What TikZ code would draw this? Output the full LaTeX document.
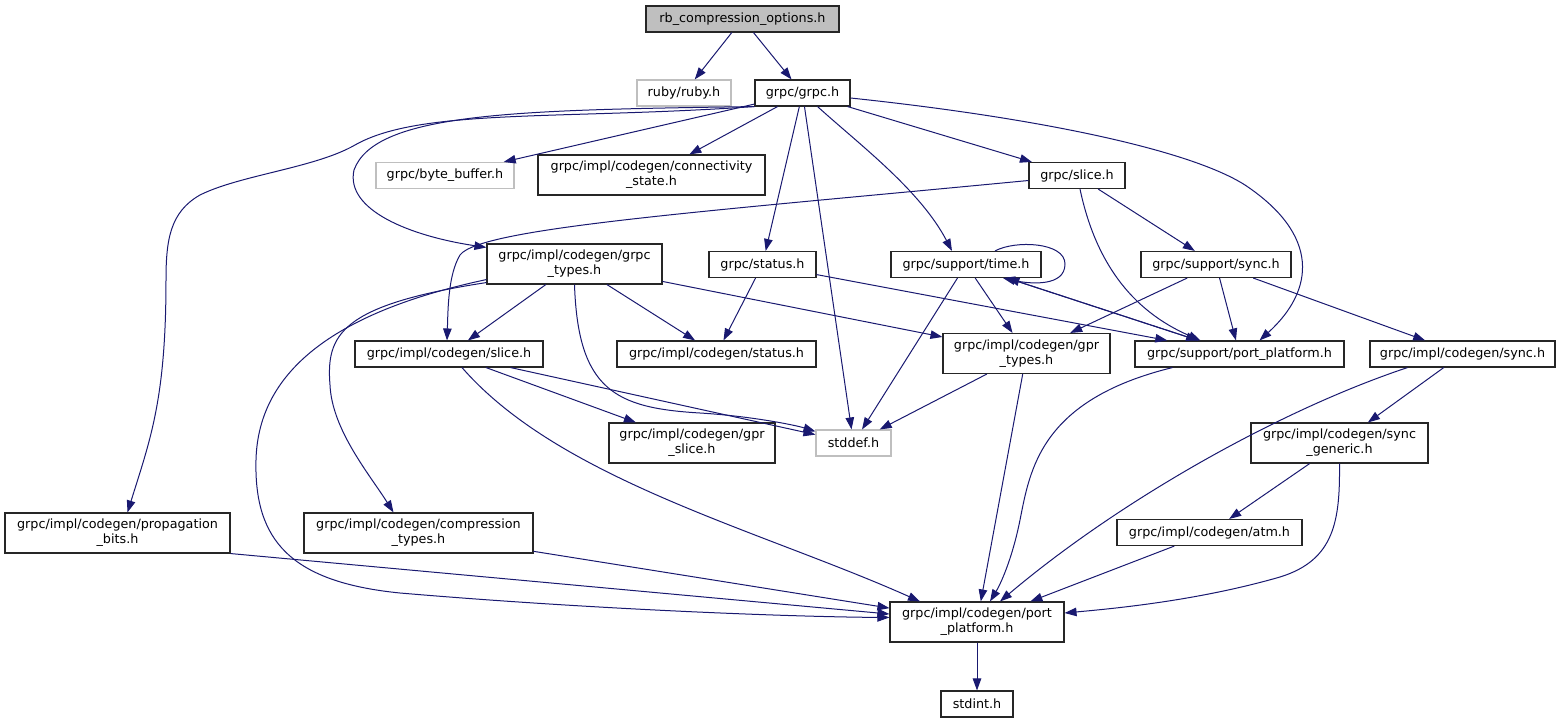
\documentclass[tikz,border=0pt]{standalone}
\usepackage{fontspec}
\setmainfont{DejaVu Sans}
\usepackage{tikz}
\usetikzlibrary{arrows.meta, positioning}
\definecolor{edgeblue}{HTML}{191970}
\definecolor{grey75}{HTML}{BFBFBF}

\begin{document}
\begin{tikzpicture}[x=1pt, y=-1pt,
        file/.style={draw=black!85, line width=1.1pt, inner sep=0pt, align=center, font=\fontsize{12.75}{15}\selectfont},
        extfile/.style={file, draw=grey75},
        rootfile/.style={file, fill=grey75},
        edge/.style={draw=edgeblue, line width=1pt, -{Triangle[length=12pt,width=8.5pt]}}]
            \useasboundingbox (0,0) rectangle (1559,723);
            \node[rootfile, minimum width=193pt, minimum height=26pt] (rb) at (742.5,19) {rb\_compression\_options.h};
            \node[extfile, minimum width=94pt, minimum height=26pt] (ruby) at (684,93) {ruby/ruby.h};
            \node[file, minimum width=95pt, minimum height=26pt] (grpc) at (802.5,93) {grpc/grpc.h};
            \node[extfile, minimum width=138pt, minimum height=26pt] (bytebuf) at (445,175.5) {grpc/byte\_buffer.h};
            \node[file, minimum width=227pt, minimum height=40pt] (connstate) at (651.5,175) {grpc/impl/codegen/connectivity\\\_state.h};
            \node[file, minimum width=96pt, minimum height=26pt] (gslice) at (1077,175.5) {grpc/slice.h};
            \node[file, minimum width=175pt, minimum height=40pt] (grpctypes) at (574.5,264) {grpc/impl/codegen/grpc\\\_types.h};
            \node[file, minimum width=107pt, minimum height=26pt] (status) at (762.5,264.5) {grpc/status.h};
            \node[file, minimum width=150pt, minimum height=26pt] (time) at (966,264.5) {grpc/support/time.h};
            \node[file, minimum width=150pt, minimum height=26pt] (ssync) at (1216,264.5) {grpc/support/sync.h};
            \node[file, minimum width=188pt, minimum height=26pt] (cslice) at (449,354) {grpc/impl/codegen/slice.h};
            \node[file, minimum width=199pt, minimum height=26pt] (cstatus) at (716.5,354) {grpc/impl/codegen/status.h};
            \node[file, minimum width=167pt, minimum height=40pt] (gprtypes) at (1026.5,353.5) {grpc/impl/codegen/gpr\\\_types.h};
            \node[file, minimum width=209pt, minimum height=26pt] (sport) at (1239.5,354) {grpc/support/port\_platform.h};
            \node[file, minimum width=185pt, minimum height=26pt] (csync) at (1462.5,354) {grpc/impl/codegen/sync.h};
            \node[extfile, minimum width=75pt, minimum height=26pt] (stddef) at (853.5,443) {stddef.h};
            \node[file, minimum width=166pt, minimum height=40pt] (gprslice) at (692,443) {grpc/impl/codegen/gpr\\\_slice.h};
            \node[file, minimum width=177pt, minimum height=40pt] (syncgen) at (1339.5,443) {grpc/impl/codegen/sync\\\_generic.h};
            \node[file, minimum width=225pt, minimum height=40pt] (propbits) at (117.5,533) {grpc/impl/codegen/propagation\\\_bits.h};
            \node[file, minimum width=229pt, minimum height=40pt] (comptypes) at (418.5,533) {grpc/impl/codegen/compression\\\_types.h};
            \node[file, minimum width=185pt, minimum height=26pt] (atm) at (1209.5,532.5) {grpc/impl/codegen/atm.h};
            \node[file, minimum width=174pt, minimum height=40pt] (cport) at (977,622) {grpc/impl/codegen/port\\\_platform.h};
            \node[file, minimum width=72pt, minimum height=26pt] (stdint) at (977,704) {stdint.h};

            \draw[edge] (rb) -- (ruby);
            \draw[edge] (rb) -- (grpc);
            \draw[edge] (grpc) -- (bytebuf);
            \draw[edge] (grpc) -- (connstate);
            \draw[edge] (grpc.south west) .. controls (520,110) and (375,112) .. (354,170) .. controls (345,210) and (410,236) .. ([yshift=-4pt]grpctypes.north west);
            \draw[edge] (grpc.south west) .. controls (560,120) and (420,108) .. (355,145) .. controls (315,168) and (240,175) .. (200,195) .. controls (170,212) and (166,240) .. (166,280) .. controls (166,400) and (150,440) .. ([xshift=10pt]propbits.north);
            \draw[edge] (grpc) -- (status);
            \draw[edge] (grpc) -- (stddef);
            \draw[edge] ([xshift=15pt]grpc.south) .. controls (860,145) and (920,190) .. ([xshift=-14pt]time.north);
            \draw[edge] (grpc) -- (gslice);
            \draw[edge] ([yshift=-5pt]grpc.east) .. controls (1040,118) and (1190,150) .. (1245,185) .. controls (1320,235) and (1315,290) .. ([xshift=20pt]sport.north);
            \draw[edge] ([yshift=-5pt]gslice.west) .. controls (700,212) and (480,228) .. (460,255) .. controls (448,275) and (448,310) .. ([xshift=-2pt]cslice.north);
            \draw[edge] (gslice) -- (ssync);
            \draw[edge] ([xshift=3pt]gslice.south) .. controls (1095,260) and (1130,310) .. ([xshift=-39pt]sport.north);
            \draw[edge] (grpctypes) -- (cslice);
            \draw[edge] (grpctypes) -- (cstatus);
            \draw[edge] (grpctypes) -- (gprtypes);
            \draw[edge] (grpctypes.south) .. controls (578,390) and (615,408) .. (700,413) .. controls (750,416) and (795,425) .. ([yshift=-2pt]stddef.north west);
            \draw[edge] ([yshift=2pt]grpctypes.south west) .. controls (340,305) and (326,335) .. (330,385) .. controls (332,430) and (370,475) .. ([xshift=-25pt]comptypes.north);
            \draw[edge] ([yshift=5pt]grpctypes.south west) .. controls (320,315) and (258,380) .. (256,460) .. controls (254,540) and (290,582) .. (400,593) .. controls (600,610) and (800,617) .. ([yshift=-16pt]cport.north west);
            \draw[edge] (propbits.south east) -- (cport);
            \draw[edge] (comptypes) -- (cport);
            \draw[edge] ([xshift=13pt]cslice.south) .. controls (560,480) and (760,530) .. ([xshift=-57pt]cport.north);
            \draw[edge] (cslice) -- (gprslice);
            \draw[edge] (cslice) -- (stddef);
            \draw[edge] (status) -- (cstatus);
            \draw[edge] (status) -- (sport);
            \draw[edge] (time) -- (stddef);
            \draw[edge] (time) -- (gprtypes);
            \draw[edge] (time) -- (sport);
            \draw[edge] (sport) -- (time);
            \draw[edge] ([xshift=29pt]time.north) .. controls (1015,240) and (1065,242) .. (1065,264) .. controls (1065,287) and (1030,284) .. ([xshift=37pt]time.south);
            \draw[edge] (ssync) -- (gprtypes);
            \draw[edge] (ssync) -- (sport);
            \draw[edge] (ssync) -- (csync);
            \draw[edge] (gprtypes) -- (stddef);
            \draw[edge] (gprtypes) -- (cport);
            \draw[edge] ([xshift=-67pt]sport.south) .. controls (1040,400) and (1030,470) .. (1020,520) .. controls (1012,560) and (1000,585) .. ([xshift=13pt]cport.north);
            \draw[edge] ([xshift=-55pt]csync.south) .. controls (1280,410) and (1120,500) .. ([xshift=23pt]cport.north);
            \draw[edge] (csync) -- (syncgen);
            \draw[edge] (syncgen) -- (atm);
            \draw[edge] (syncgen.south) .. controls (1340,520) and (1335,560) .. (1280,577) .. controls (1200,600) and (1120,608) .. ([yshift=9pt]cport.east);
            \draw[edge] (atm) -- (cport);
            \draw[edge] (cport) -- (stdint);
        \end{tikzpicture}
\end{document}
